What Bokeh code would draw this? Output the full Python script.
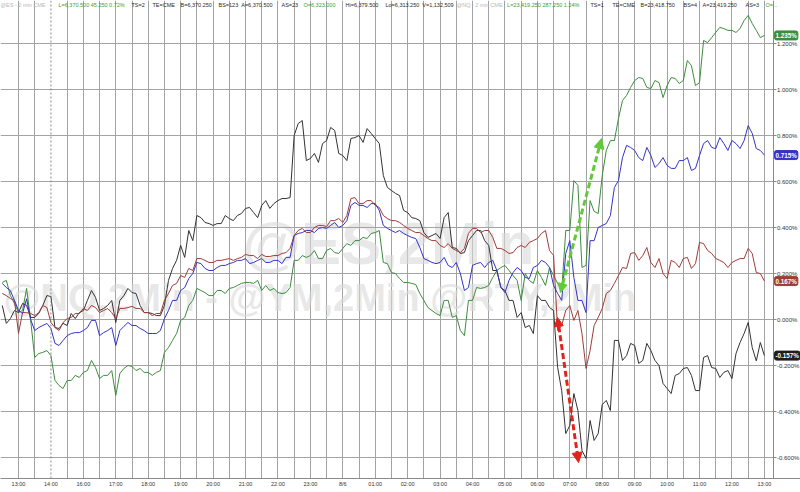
from bokeh.plotting import figure
from bokeh.models import (Range1d, FixedTicker, Label, Arrow, NormalHead, Span)
from bokeh.embed import file_html
from bokeh.resources import INLINE

# ---------------- data ----------------
# time axis: session hour index (0 = 13:00, 1 = 14:00, 2 = 16:00 ... 23 = 13:00 next day), 7.5-min steps
hours = [-0.5 + 0.125 * i for i in range(189)]

tick_labels = ["13:00", "14:00", "16:00", "17:00", "18:00", "19:00", "20:00", "21:00",
               "22:00", "23:00", "8/6", "01:00", "02:00", "03:00", "04:00", "05:00",
               "06:00", "07:00", "08:00", "09:00", "10:00", "11:00", "12:00", "13:00"]
session_break_label = "14:00"

y_ticks = [-0.6, -0.4, -0.2, 0.0, 0.2, 0.4, 0.6, 0.8, 1.0, 1.2]

black_pct = [
    0.061, -0.017, 0.004, 0.039,
    0.030, 0.070, 0.061, 0.009, 0.009, 0.026, 0.061, 0.104,
    0.100, -0.035, -0.039, -0.017, -0.026, 0.026, 0.004, 0.030,
    0.039, 0.083, 0.126, 0.096, 0.039, 0.048, 0.061, 0.083,
    -0.013, 0.083, 0.104, 0.135, 0.117, 0.113, 0.061, 0.030,
    0.030, 0.026, 0.017, 0.017, 0.061, 0.170, 0.222, 0.257,
    0.322, 0.270, 0.387, 0.343, 0.452, 0.443, 0.422, 0.417,
    0.409, 0.417, 0.417, 0.452, 0.439, 0.430, 0.452, 0.461,
    0.483, 0.487, 0.465, 0.443, 0.496, 0.517, 0.483, 0.504,
    0.517, 0.526, 0.526, 0.530, 0.800, 0.852, 0.865, 0.691,
    0.700, 0.722, 0.683, 0.765, 0.778, 0.835, 0.822, 0.722,
    0.713, 0.691, 0.787, 0.791, 0.800, 0.770, 0.830, 0.809,
    0.787, 0.765, 0.626, 0.574, 0.561, 0.548, 0.539, 0.474,
    0.465, 0.443, 0.439, 0.430, 0.378, 0.357, 0.365, 0.374,
    0.352, 0.443, 0.465, 0.313, 0.309, 0.287, 0.291, 0.343,
    0.365, 0.387, 0.387, 0.343, 0.322, 0.213, 0.213, 0.139,
    0.126, 0.083, 0.083, 0.009, 0.030, -0.035, -0.026, -0.061,
    0.104, 0.083, 0.083, 0.052, 0.039, -0.209, -0.309, -0.496,
    -0.461, -0.322, -0.396, -0.570, -0.604, -0.439, -0.526, -0.496,
    -0.370, -0.352, -0.396, -0.091, -0.091, -0.178, -0.157, -0.104,
    -0.113, -0.191, -0.178, -0.104, -0.135, -0.178, -0.200, -0.278,
    -0.300, -0.322, -0.243, -0.235, -0.213, -0.209, -0.243, -0.309,
    -0.309, -0.165, -0.157, -0.209, -0.213, -0.252, -0.230, -0.222,
    -0.257, -0.148, -0.100, -0.061, -0.013, -0.122, -0.180, -0.100,
    -0.157]

brown_pct = [
    0.113, 0.104, 0.091, 0.083,
    -0.060, 0.030, 0.030, 0.026, 0.017, 0.030, 0.061, 0.052,
    -0.013, -0.035, -0.048, -0.013, 0.004, 0.009, 0.026, 0.026,
    0.048, 0.039, 0.061, 0.052, 0.030, 0.039, 0.048, 0.030,
    0.004, 0.048, 0.048, 0.052, 0.057, 0.048, 0.048, 0.030,
    0.030, 0.017, 0.026, 0.026, 0.083, 0.113, 0.148, 0.157,
    0.191, 0.183, 0.222, 0.213, 0.265, 0.265, 0.257, 0.248,
    0.248, 0.257, 0.257, 0.261, 0.265, 0.257, 0.265, 0.270,
    0.283, 0.278, 0.278, 0.265, 0.283, 0.274, 0.274, 0.278,
    0.278, 0.287, 0.291, 0.309, 0.365, 0.387, 0.396, 0.378,
    0.378, 0.400, 0.409, 0.409, 0.404, 0.430, 0.430, 0.439,
    0.422, 0.452, 0.526, 0.530, 0.504, 0.504, 0.517, 0.517,
    0.496, 0.487, 0.452, 0.439, 0.430, 0.430, 0.422, 0.409,
    0.396, 0.387, 0.378, 0.378, 0.365, 0.352, 0.343, 0.343,
    0.322, 0.313, 0.330, 0.309, 0.300, 0.291, 0.309, 0.374,
    0.396, 0.396, 0.378, 0.387, 0.387, 0.357, 0.309, 0.309,
    0.300, 0.287, 0.291, 0.313, 0.322, 0.313, 0.335, 0.343,
    0.352, 0.374, 0.387, 0.300, 0.278, -0.048, -0.026, 0.039,
    0.061, -0.004, 0.039, -0.061, -0.213, -0.135, -0.026, 0.009,
    0.048, 0.113, 0.126, 0.157, 0.191, 0.226, 0.222, 0.287,
    0.291, 0.257, 0.278, 0.313, 0.248, 0.226, 0.265, 0.200,
    0.178, 0.257, 0.248, 0.226, 0.265, 0.270, 0.222, 0.243,
    0.335, 0.330, 0.300, 0.287, 0.265, 0.257, 0.248, 0.226,
    0.248, 0.257, 0.265, 0.265, 0.309, 0.287, 0.204, 0.200,
    0.167]

blue_pct = [
    0.157, 0.139, 0.126, 0.083,
    0.039, 0.026, 0.090, 0.000, -0.048, -0.035, -0.026, -0.017,
    -0.039, -0.104, -0.113, -0.091, -0.070, -0.061, -0.057, -0.057,
    -0.048, -0.035, -0.004, -0.004, -0.070, -0.057, -0.048, -0.035,
    -0.113, -0.048, -0.030, -0.013, -0.026, -0.026, -0.039, -0.048,
    -0.061, -0.061, -0.061, -0.048, 0.004, 0.039, 0.083, 0.083,
    0.126, 0.139, 0.178, 0.200, 0.248, 0.243, 0.222, 0.213,
    0.213, 0.226, 0.235, 0.235, 0.243, 0.248, 0.257, 0.257,
    0.265, 0.243, 0.248, 0.257, 0.265, 0.248, 0.248, 0.257,
    0.257, 0.243, 0.270, 0.270, 0.365, 0.374, 0.378, 0.387,
    0.387, 0.378, 0.396, 0.400, 0.396, 0.409, 0.422, 0.400,
    0.409, 0.430, 0.496, 0.509, 0.496, 0.496, 0.487, 0.504,
    0.504, 0.474, 0.409, 0.396, 0.387, 0.378, 0.387, 0.374,
    0.365, 0.357, 0.352, 0.313, 0.265, 0.257, 0.248, 0.243,
    0.248, 0.270, 0.235, 0.226, 0.248, 0.200, 0.126, 0.139,
    0.235, 0.243, 0.248, 0.226, 0.248, 0.257, 0.213, 0.139,
    0.117, 0.170, 0.204, 0.226, 0.213, 0.183, 0.178, 0.226,
    0.235, 0.257, 0.248, 0.226, 0.148, 0.113, 0.083, 0.287,
    0.343, 0.183, 0.083, 0.083, 0.030, 0.343, 0.343, 0.400,
    0.409, 0.417, 0.452, 0.574, 0.604, 0.704, 0.757, 0.748,
    0.735, 0.704, 0.691, 0.748, 0.713, 0.661, 0.678, 0.704,
    0.670, 0.657, 0.657, 0.691, 0.691, 0.704, 0.648, 0.657,
    0.713, 0.765, 0.778, 0.748, 0.743, 0.791, 0.765, 0.735,
    0.778, 0.765, 0.743, 0.778, 0.843, 0.809, 0.743, 0.735,
    0.715]

green_pct = [
    0.161, 0.170, 0.104, 0.070,
    0.030, 0.039, 0.135, -0.004, -0.165, -0.148, -0.143, -0.135,
    -0.157, -0.265, -0.287, -0.300, -0.265, -0.265, -0.243, -0.252,
    -0.230, -0.222, -0.178, -0.209, -0.257, -0.243, -0.243, -0.222,
    -0.330, -0.235, -0.213, -0.200, -0.204, -0.222, -0.213, -0.230,
    -0.230, -0.243, -0.230, -0.222, -0.143, -0.122, -0.091, -0.061,
    -0.004, 0.009, 0.061, 0.083, 0.135, 0.126, 0.117, 0.104,
    0.104, 0.126, 0.126, 0.113, 0.135, 0.139, 0.148, 0.157,
    0.161, 0.161, 0.157, 0.170, 0.126, 0.148, 0.126, 0.135,
    0.117, 0.113, 0.117, 0.139, 0.257, 0.257, 0.278, 0.270,
    0.278, 0.300, 0.265, 0.265, 0.300, 0.309, 0.291, 0.287,
    0.309, 0.330, 0.322, 0.343, 0.343, 0.357, 0.352, 0.374,
    0.378, 0.387, 0.248, 0.243, 0.204, 0.200, 0.178, 0.161,
    0.161, 0.157, 0.152, 0.113, 0.083, 0.052, 0.039, 0.026,
    0.017, 0.083, 0.083, 0.009, 0.017, -0.048, -0.070, 0.083,
    0.083, 0.139, 0.135, 0.139, 0.148, 0.183, 0.213, 0.226,
    0.235, 0.213, 0.191, 0.170, 0.083, 0.200, 0.170, 0.157,
    0.213, 0.183, 0.148, 0.226, 0.191, 0.157, 0.126, 0.387,
    0.387, 0.604, 0.583, 0.226, 0.235, 0.517, 0.470, 0.461,
    0.626, 0.735, 0.778, 0.778, 0.874, 0.952, 0.974, 1.009,
    1.039, 1.052, 1.048, 1.009, 1.004, 1.039, 1.030, 0.965,
    1.017, 1.052, 1.048, 1.026, 1.039, 1.126, 1.104, 1.017,
    1.030, 1.213, 1.204, 1.226, 1.248, 1.270, 1.265, 1.257,
    1.257, 1.248, 1.265, 1.300, 1.322, 1.287, 1.257, 1.226,
    1.235]

for s in (black_pct, brown_pct, blue_pct, green_pct):
    assert len(s) == len(hours), len(s)

# annotation arrows (hour index, pct): start -> end
green_arrow = [(16.71, 0.117), (17.98, 0.787)]
red_arrow = [(16.62, 0.009), (17.27, -0.622)]

header_texts = ["@ES - 2 min  CME", "L=6,370.500  45.250  0.72%", "TS=2", "TE=CME",
                "B=6,370.250", "BS=123", "A=6,370.500", "AS=23", "O=6,323.000",
                "Hi=6,379.500", "Lo=6,313.250", "V=1,132,509", "@NQ - 2 min  CME",
                "L=23,419.250  287.250  1.24%", "TS=1", "TE=CME", "B=23,418.750",
                "BS=4", "A=23,419.250", "AS=3", "O=..."]
header_kinds = ["sym", "up", "txt", "txt", "txt", "txt", "txt", "txt", "up", "txt", "txt",
                "txt", "sym", "up", "txt", "txt", "txt", "txt", "txt", "txt", "up"]

# ---------------- styles / layout ----------------
C_BLACK = "#333333"
C_BROWN = "#a03c37"
C_BLUE = "#3434c4"
C_GREEN = "#3d8c3d"
GRID = "#a3a3a3"
AXIS = "#8a8a8a"
FONT = "Liberation Sans"
kind_color = {"sym": "#b8b8b8", "up": "#3d9a3d", "txt": "#2a2a2a"}
header_x = [0, 58, 131, 152, 180, 218, 240, 281, 303, 345, 385, 412, 450, 505, 590,
            612, 640, 683, 702, 745, 765]
HEADER_FS = 5.5

# approximate Arial advance widths (em) to keep header pieces from overlapping
_W = {".": .278, ",": .278, "=": .584, "%": .889, "@": 1.015, " ": .278, "-": .333,
      ":": .278, "i": .222, "m": .833, "n": .556, "o": .556, "L": .556, "T": .611,
      "M": .833, "C": .722, "O": .778, "Q": .778, "N": .722, "H": .722}


def text_w(t, fs):
    return sum(_W.get(c, .556 if c.isdigit() else .667) for c in t) * fs


W, H = 800, 492
BOTTOM = 14                      # x-axis panel height
PX_H0, PX_PER_H = 18.0, 32.43    # pixel of hour 0 and pixels per hour
PX_V0, PX_PER_PCT = 319.0, 230.0  # pixel of 0 % and pixels per 1 %
FRAME_H = H - BOTTOM


def hx(px):   # pixel column -> hour index
    return (px - PX_H0) / PX_PER_H


def vy(py):   # pixel row -> pct
    return (PX_V0 - py) / PX_PER_PCT


p = figure(width=W, height=H, output_backend="svg", toolbar_location=None,
           x_range=Range1d(hx(0), hx(W)), y_range=Range1d(vy(FRAME_H), vy(0)),
           y_axis_location=None, min_border_left=0, min_border_top=0,
           min_border_right=0, min_border_bottom=BOTTOM,
           background_fill_color="white", border_fill_color="white")
p.outline_line_color = None

h_axis = hx(773)

# grid: vertical every half hour, dashed line at session break
brk = tick_labels.index(session_break_label)
half_hours = [i * 0.5 for i in range(0, 2 * (len(tick_labels) - 1) + 1)]
p.xgrid.ticker = FixedTicker(ticks=[t for t in half_hours if t != brk])
p.xgrid.grid_line_color = GRID
p.ygrid.visible = False
p.add_layout(Span(location=brk, dimension="height", line_color=AXIS,
                  line_dash="2 2", line_width=1))
p.segment(x0=[hx(0)] * len(y_ticks), x1=[h_axis] * len(y_ticks), y0=y_ticks, y1=y_ticks,
          line_color=GRID, line_width=1)

# watermarks
p.add_layout(Label(x=242, y=FRAME_H - 243, x_units="screen", y_units="screen",
                   text="@ES,2Min", text_font=FONT, text_font_style="bold",
                   text_font_size="60px", text_color="#d9d9d9", text_alpha=0.6,
                   text_baseline="alphabetic", level="underlay"))
p.add_layout(Label(x=3, y=FRAME_H - 297, x_units="screen", y_units="screen",
                   text="@NQ,2Min - @YM,2Min @RTY,2Min", text_font=FONT,
                   text_font_style="bold", text_font_size="38px", text_color="#d9d9d9",
                   text_alpha=0.6, text_baseline="alphabetic", level="underlay"))

# right price axis (drawn inside the frame so the last-value tags can sit on it)
p.add_layout(Span(location=h_axis, dimension="height", line_color=AXIS, line_width=1))
p.segment(x0=[h_axis] * len(y_ticks), x1=[hx(776)] * len(y_ticks), y0=y_ticks, y1=y_ticks,
          line_color=AXIS, line_width=1)
p.text(x=[hx(776.5)] * len(y_ticks), y=y_ticks, text=[f"{t:.3f}%" for t in y_ticks],
       text_font={"value": FONT}, text_font_size="6px", text_color="#333333",
       text_baseline="middle", text_align="left")

# lines
for ys, col in ((green_pct, C_GREEN), (black_pct, C_BLACK), (brown_pct, C_BROWN), (blue_pct, C_BLUE)):
    p.line(hours, ys, line_color=col, line_width=1)

# x axis
p.xaxis.ticker = FixedTicker(ticks=list(range(len(tick_labels))))
p.xaxis.major_label_overrides = {i: t for i, t in enumerate(tick_labels)}
p.xaxis.major_tick_out = 0
p.xaxis.major_tick_in = 0
p.xaxis.minor_tick_line_color = None
p.xaxis.axis_line_color = AXIS
p.xaxis.major_label_text_font = FONT
p.xaxis.major_label_text_font_size = "5.5px"
p.xaxis.major_label_text_color = "#333333"
p.xaxis.major_label_standoff = 2

# arrows
for pts, col in ((green_arrow, "#62c93a"), (red_arrow, "#e0231c")):
    (x0, y0), (x1, y1) = pts
    p.add_layout(Arrow(x_start=x0, y_start=y0, x_end=x1, y_end=y1,
                       line_color=col, line_width=3, line_dash="6 3",
                       start=NormalHead(size=9, fill_color=col, line_color=col),
                       end=NormalHead(size=10, fill_color=col, line_color=col)))

# last value tags
for ys, col in ((green_pct, C_GREEN), (blue_pct, C_BLUE), (brown_pct, C_BROWN), (black_pct, "#1e1e1e")):
    p.add_layout(Label(x=hx(774), y=ys[-1], x_units="data", y_units="data",
                       text=f"{ys[-1]:.3f}%", text_font=FONT, text_font_style="bold",
                       text_font_size="6.3px", text_color="white", text_baseline="middle",
                       background_fill_color=col, border_line_color=col, padding=1,
                       border_radius=2))

# header (pieces placed left to right without overlapping)
cur = 0.0
for t, k, rx in zip(header_texts, header_kinds, header_x):
    x = max(rx, cur)
    p.add_layout(Label(x=x, y=FRAME_H - 1, x_units="screen", y_units="screen",
                       text=t, text_font=FONT, text_font_size=f"{HEADER_FS}px",
                       text_color=kind_color[k], text_baseline="top"))
    cur = x + text_w(t, HEADER_FS) + 3

open("out.html", "w").write(file_html(p, INLINE))
